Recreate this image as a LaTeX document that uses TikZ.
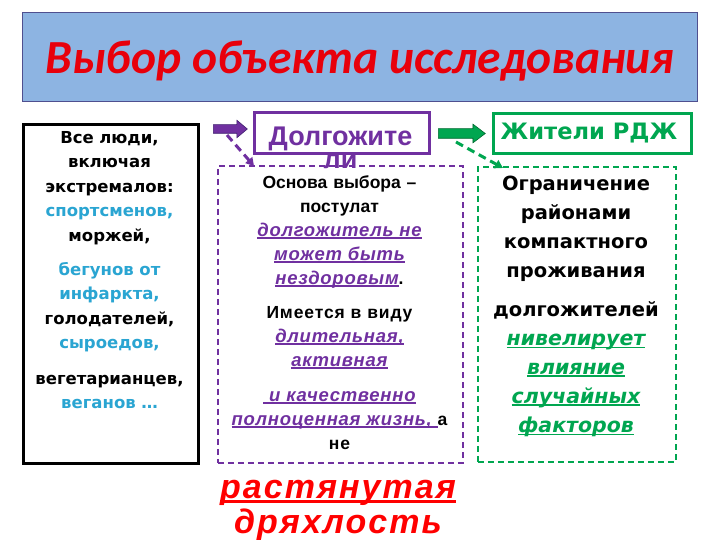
\documentclass[tikz,border=0pt]{standalone}
\usepackage{fontspec}
\setmainfont{Liberation Sans}
\newfontfamily\dejavu{DejaVu Sans}
\newfontfamily\titlefont{Carlito}
\usetikzlibrary{shapes.arrows,arrows.meta}
\definecolor{titlefill}{HTML}{8DB4E2}
\definecolor{titleline}{HTML}{4F4F8F}
\definecolor{titlered}{HTML}{E8000B}
\definecolor{cyantext}{HTML}{2AA5D2}
\definecolor{purp}{HTML}{7030A0}
\definecolor{purpdark}{HTML}{3F1F6F}
\definecolor{grn}{HTML}{00A650}
\definecolor{grndark}{HTML}{006A30}
\definecolor{redtext}{HTML}{FF0000}
\newsavebox\ulbox
\newcommand\ulthick{1.3pt}
\newcommand\myul[2][2.6pt]{\leavevmode\sbox\ulbox{#2}\rlap{\rule[-#1]{\wd\ulbox}{\ulthick}}\usebox\ulbox}
\newcommand\pul[1]{\leavevmode{\color{purp}\fontsize{18.5}{24}\selectfont\itshape\addfontfeature{LetterSpace=4}\myul{#1}}}
\newcommand\gul[1]{\leavevmode{\color{grn}\fontsize{20.5}{29}\selectfont\itshape\myul{#1}}}
\newcommand\cy[1]{{\color{cyantext}#1}}
\tikzset{
  solidbox/.style={draw, minimum width=#1, anchor=north west, inner sep=0pt},
  txt/.style={anchor=north, inner sep=0pt, align=center},
  dashbox/.style={draw, line width=1.6pt, dash pattern=on 6pt off 4pt, anchor=north west, inner sep=0pt},
  blockarrow/.style={single arrow, inner xsep=0pt, anchor=west}
}
\begin{document}
\begin{tikzpicture}[x=1pt,y=-1pt]
\useasboundingbox (0,0) rectangle (720,540);
\fill[white] (0,0) rectangle (720,540);
% title
\node[solidbox=675pt, draw=titleline, fill=titlefill, line width=0.8pt, minimum height=89pt] (title) at (22,12) {};
\node[anchor=base, inner sep=0pt, text=titlered, font=\titlefont\bfseries\itshape\fontsize{47.5}{56}\selectfont] (titletext) at (360,74) {Выбор объекта исследования};
% left box
\node[solidbox=175pt, line width=3pt, minimum height=339pt] (leftbox) at (22,123) {};
\node[txt, text width=174pt, font=\dejavu\bfseries\fontsize{16.5}{24.5}\selectfont] (lefttext) at (109.5,126) {\rule{0pt}{17pt}Все люди,\\ включая\\ экстремалов:\\ \cy{спортсменов,}\\ моржей,\\[9.5pt] \cy{бегунов от}\\ \cy{инфаркта,}\\ голодателей,\\ \cy{сыроедов,}\\[11pt] вегетарианцев,\\ \cy{веганов \dots}};
% purple header
\node[solidbox=175pt, draw=purp, line width=2.6pt, minimum height=41pt] (dolgbox) at (253,111) {};
\node[blockarrow, draw=purpdark, fill=purp, line width=0.6pt, minimum height=34pt, inner ysep=4pt, single arrow head extend=4.5pt, single arrow tip angle=80] (parrow) at (213,129) {};
% middle dashed box
\node[dashbox, draw=purp, minimum width=245pt, minimum height=297pt] (midbox) at (217,165) {};
\node[txt, text width=240pt, text=purp, font=\bfseries\fontsize{27}{23}\selectfont] (dolgtext) at (340.5,125) {\rule{0pt}{20pt}Долгожите\\ли};
\node[txt, text width=240pt, font=\bfseries\fontsize{17.5}{24}\selectfont] (midtext) at (339.5,171) {\rule{0pt}{17pt}Основа выбора –\\ постулат\\ \pul{долгожитель не}\\ \pul{может быть}\\ \pul{нездоровым}.\\[10pt] \addfontfeature{LetterSpace=5}Имеется в виду\\ \pul{длительная,}\\ \pul{активная}\\[11pt] \pul{\ и качественно}\\ \pul{полноценная жизнь, }а\\ не};
\node[txt, text width=300pt, text=redtext, font=\bfseries\itshape\fontsize{34}{35}\selectfont] (redtext) at (338,470) {\rule{0pt}{28pt}\addfontfeature{LetterSpace=6}\renewcommand\ulthick{2.6pt}\myul[4.5pt]{растянутая}\\ дряхлость};
% green header
\node[solidbox=198pt, draw=grn, line width=2.6pt, minimum height=40pt] (rdjbox) at (492,112) {};
\node[blockarrow, draw=grndark, fill=grn, line width=0.6pt, minimum height=47pt, inner ysep=4.5pt, single arrow head extend=4.5pt, single arrow tip angle=74] (garrow) at (438,133.5) {};
\node[anchor=base, inner sep=0pt, text=grn, font=\dejavu\bfseries\fontsize{22.6}{24}\selectfont] (rdjtext) at (589,139.5) {Жители РДЖ};
% right dashed box
\node[dashbox, draw=grn, minimum width=198pt, minimum height=295pt] (rightbox) at (477,166) {};
\node[txt, text width=196pt, font=\dejavu\bfseries\fontsize{19.5}{29}\selectfont] (righttext) at (576,170) {\rule{0pt}{20pt}Ограничение\\ районами\\ компактного\\ проживания\\[10pt] долгожителей\\ \gul{нивелирует}\\ \gul{влияние}\\ \gul{случайных}\\ \gul{факторов}};
% dashed arrows
\coordinate (pend) at (254,166);
\coordinate (gend) at (503,168);
\draw[purp, line width=3pt, dash pattern=on 8pt off 5pt, -{Triangle[length=8pt,width=9pt]}] (parrow.west) ++(14,6) -- (pend);
\draw[grn, line width=3pt, dash pattern=on 8pt off 5pt, -{Triangle[length=8pt,width=9pt]}] (garrow.west) ++(18,8.5) -- (gend);
\end{tikzpicture}
\end{document}
